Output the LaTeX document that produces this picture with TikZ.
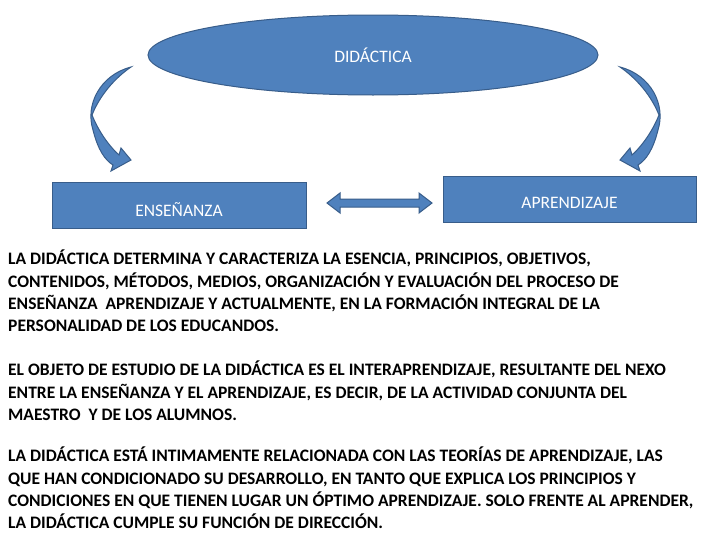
\documentclass[tikz,border=0pt]{standalone}
\usepackage{fontspec}
\setmainfont{Carlito}
\usetikzlibrary{arrows.meta,shapes.geometric}
\definecolor{fillb}{HTML}{4F81BD}
\definecolor{edgeb}{HTML}{385D8A}
\begin{document}
\begin{tikzpicture}[x=1pt,y=-1pt,
  shp/.style={fill=fillb,draw=edgeb,line width=1pt},
  lbl/.style={text=white,font=\fontsize{17.5}{20}\selectfont},
  para/.style={anchor=north west,align=left,inner sep=0pt,font=\bfseries\fontsize{17.5}{22.3}\selectfont}]
\useasboundingbox[fill=white] (0,0) rectangle (728,546);
\node[shp,ellipse,minimum width=450,minimum height=80,inner sep=0] (did) at (373,55) {};
\node[lbl] (didt) at (373,55) {DIDÁCTICA};
\node[shp,rectangle,minimum width=254,minimum height=46,inner sep=0] (ens) at (179,205) {};
\node[lbl] (enst) at (179,210) {ENSEÑANZA};
\node[shp,rectangle,minimum width=253,minimum height=46,inner sep=0] (apr) at (569.5,199) {};
\node[lbl] (aprt) at (569.5,203) {APRENDIZAJE};
\draw[shp] (131,67) .. controls (100,75) and (85,105) .. (93,130) .. controls (98,150) and (105,160) .. (113,165) -- (111,171) -- (131,160) -- (121,148) -- (119,155) .. controls (108,145) and (98,130) .. (92,115) .. controls (100,95) and (115,78) .. (131,67) -- cycle;
\begin{scope}[xshift=751,xscale=-1]
\draw[shp] (131,67) .. controls (100,75) and (85,105) .. (93,130) .. controls (98,150) and (105,160) .. (113,165) -- (111,171) -- (131,160) -- (121,148) -- (119,155) .. controls (108,145) and (98,130) .. (92,115) .. controls (100,95) and (115,78) .. (131,67) -- cycle;
\end{scope}
\draw[shp] (327,203) -- (340,193) -- (340,199) -- (419,199) -- (419,193) -- (432,203) -- (419,213) -- (419,207) -- (340,207) -- (340,213) -- cycle;
\node[para] (p1) at (8,250) {LA DIDÁCTICA DETERMINA Y CARACTERIZA LA ESENCIA, PRINCIPIOS, OBJETIVOS,\\CONTENIDOS, MÉTODOS, MEDIOS, ORGANIZACIÓN Y EVALUACIÓN DEL PROCESO DE\\ENSEÑANZA\ \ APRENDIZAJE Y ACTUALMENTE, EN LA FORMACIÓN INTEGRAL DE LA\\PERSONALIDAD DE LOS EDUCANDOS.};
\node[para] (p2) at (8,361) {EL OBJETO DE ESTUDIO DE LA DIDÁCTICA ES EL INTERAPRENDIZAJE, RESULTANTE DEL NEXO\\ENTRE LA ENSEÑANZA Y EL APRENDIZAJE, ES DECIR, DE LA ACTIVIDAD CONJUNTA DEL\\MAESTRO\ \ Y DE LOS ALUMNOS.};
\node[para] (p3) at (8,447) {LA DIDÁCTICA ESTÁ INTIMAMENTE RELACIONADA CON LAS TEORÍAS DE APRENDIZAJE, LAS\\QUE HAN CONDICIONADO SU DESARROLLO, EN TANTO QUE EXPLICA LOS PRINCIPIOS Y\\CONDICIONES EN QUE TIENEN LUGAR UN ÓPTIMO APRENDIZAJE. SOLO FRENTE AL APRENDER,\\LA DIDÁCTICA CUMPLE SU FUNCIÓN DE DIRECCIÓN.};
\end{tikzpicture}
\end{document}
